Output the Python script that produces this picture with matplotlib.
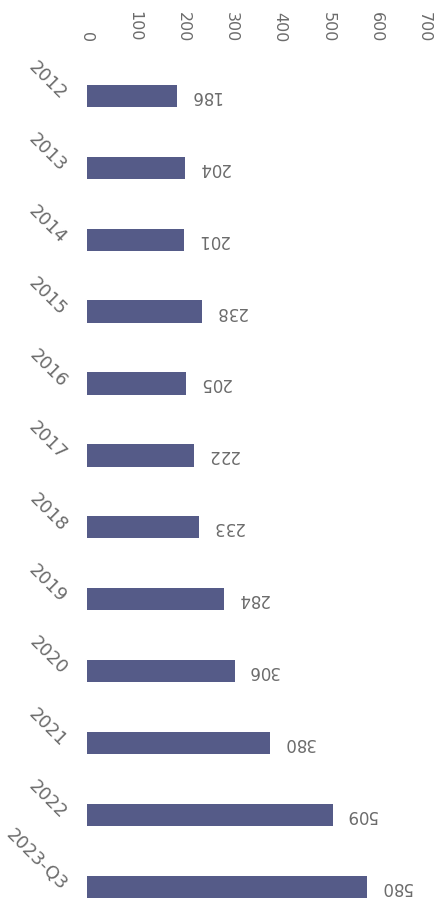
import matplotlib
matplotlib.use("Agg")
import matplotlib.pyplot as plt

# dane
years = ["2012", "2013", "2014", "2015", "2016", "2017",
         "2018", "2019", "2020", "2021", "2022", "2023-Q3"]
counts = [186, 204, 201, 238, 205, 222, 233, 284, 306, 380, 509, 580]
x_ticks = [0, 100, 200, 300, 400, 500, 600, 700]

BAR = "#555b88"
TXT = "#6b6b6b"


def main():
    fig = plt.figure(figsize=(4.41, 9.09), dpi=100)
    ax = fig.add_axes([0.197, 0.0, 0.766, 0.934])

    pos = list(range(len(years)))
    ax.barh(pos, counts, height=0.31, color=BAR)

    ax.set_xlim(0, 700)
    ax.set_ylim(11.31, -0.5)

    # osie u góry, obrócone etykiety
    ax.xaxis.tick_top()
    ax.set_xticks(x_ticks)
    ax.set_xticklabels([str(t) for t in x_ticks])
    ax.tick_params(axis="x", length=0, pad=13, labelrotation=-90,
                   labelsize=11.5, labelcolor=TXT)
    ax.set_yticks([])
    for s in ax.spines.values():
        s.set_visible(False)

    for i, (yr, v) in enumerate(zip(years, counts)):
        ax.annotate(yr, xy=(0, i), xytext=(-23, -1), textcoords="offset pixels",
                    rotation=-45, rotation_mode="anchor", ha="right", va="center",
                    fontsize=13, color=TXT)
        ax.annotate(str(v), xy=(v, i), xytext=(13, 0), textcoords="offset pixels",
                    rotation=180, ha="left", va="center",
                    fontsize=12, color=TXT)

    fig.savefig("out.png", dpi=100)
    plt.close(fig)


if __name__ == "__main__":
    main()
